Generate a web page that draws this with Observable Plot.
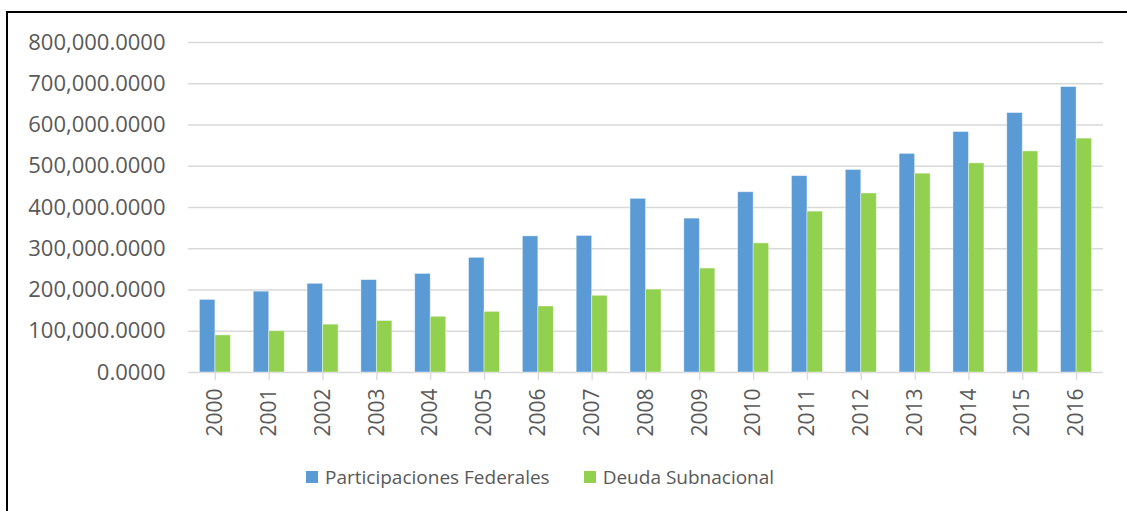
<!DOCTYPE html>
<html>
<head>
<meta charset="utf-8">
<script src="https://cdn.jsdelivr.net/npm/d3@7"></script>
<script src="https://cdn.jsdelivr.net/npm/@observablehq/plot@0.6"></script>
<style>
  html, body { margin: 0; padding: 0; background: #fff; overflow: hidden; }
  #wrap { position: relative; width: 1127px; height: 511px; overflow: hidden; }
  #frame { position: absolute; left: 6px; top: 11px; width: 1300px; height: 700px; border: 2px solid #000; box-sizing: border-box; }
  #chart { position: absolute; left: 0; top: 0; }
  #legend { position: absolute; left: 306px; top: 464px; font-family: "Open Sans", sans-serif; font-size: 19px; color: #595959; display: flex; align-items: center; white-space: nowrap; }
  .sw { display: inline-block; width: 12px; height: 12px; margin-right: 7px; }
  .item { display: flex; align-items: center; margin-right: 34px; }
</style>
</head>
<body>
<div id="wrap">
  <div id="frame"></div>
  <div id="chart"></div>
  <div id="legend"></div>
</div>
<script>
const years = ["2000","2001","2002","2003","2004","2005","2006","2007","2008","2009","2010","2011","2012","2013","2014","2015","2016"];
const participaciones = [176000,196000,215000,224000,239000,278000,330000,331000,421000,373000,437000,476000,491000,530000,583000,629000,692000];
const deuda = [90000,100000,116000,125000,135000,147000,160000,186000,201000,252000,313000,390000,434000,482000,507000,536000,567000];
const seriesNames = ["Participaciones Federales","Deuda Subnacional"];
const seriesColors = ["#5B9BD5","#92D050"];
const yTicks = [0,100000,200000,300000,400000,500000,600000,700000,800000];

const data = [];
years.forEach((y, i) => {
  data.push({year: y, series: seriesNames[0], value: participaciones[i]});
  data.push({year: y, series: seriesNames[1], value: deuda[i]});
});

const W = 1127, H = 445;
const mL = 188, mR = 24, mT = 42, mB = H - 372;
const bw = (W - mL - mR) / years.length;
const barW = 15.5;
const gap = (bw - 2 * barW) / 2;

const font = "'Open Sans', sans-serif";
const grey = "#595959";

const chart = Plot.plot({
  width: W,
  height: H,
  marginLeft: mL,
  marginRight: mR,
  marginTop: mT,
  marginBottom: mB,
  style: {fontFamily: font, color: grey, background: "transparent", overflow: "visible"},
  x: {domain: years, paddingInner: 0, paddingOuter: 0, round: false, label: null},
  y: {domain: [0, 800000], label: null},
  color: {domain: seriesNames, range: seriesColors},
  marks: [
    Plot.ruleY(yTicks, {stroke: "#D9D9D9", strokeWidth: 1.3}),
    Plot.barY(data.filter(d => d.series === seriesNames[0]), {
      x: "year", y: "value", fill: "series",
      insetLeft: gap, insetRight: bw - gap - barW,
      stroke: "#ffffff", strokeOpacity: 0.5, strokeWidth: 0.8
    }),
    Plot.barY(data.filter(d => d.series === seriesNames[1]), {
      x: "year", y: "value", fill: "series",
      insetLeft: gap + barW, insetRight: gap,
      stroke: "#ffffff", strokeOpacity: 0.5, strokeWidth: 0.8
    }),
    Plot.ruleX(years, {x: d => d, y1: 0, y2: 0, insetBottom: -8, stroke: "#D9D9D9", strokeWidth: 1.3}),
    Plot.ruleX(years.slice(-1), {x: d => d, dx: bw, y1: 0, y2: 0, insetBottom: -8, stroke: "#D9D9D9", strokeWidth: 1.3}),
    Plot.axisY({ticks: yTicks, tickFormat: d3.format(",.4f"), tickSize: 0, tickPadding: 23, fontSize: 22, fill: grey, label: null}),
    Plot.axisX({tickRotate: -90, tickSize: 0, tickPadding: 16, fontSize: 21, fill: grey, label: null})
  ]
});

document.getElementById("chart").appendChild(chart);

// Legend
const legend = document.getElementById("legend");
seriesNames.forEach((n, i) => {
  const it = document.createElement("span");
  it.className = "item";
  const sw = document.createElement("span");
  sw.className = "sw";
  sw.style.background = seriesColors[i];
  it.appendChild(sw);
  it.appendChild(document.createTextNode(n));
  legend.appendChild(it);
});
</script>
</body>
</html>
